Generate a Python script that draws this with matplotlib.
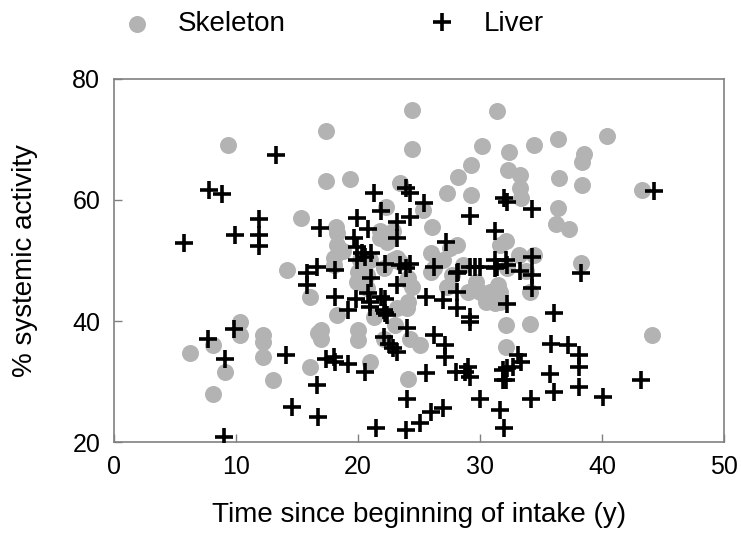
import matplotlib.pyplot as plt

plt.rcParams['font.family'] = ['Liberation Sans', 'DejaVu Sans']

# Skeleton (grey circles): time since beginning of intake (y), % systemic activity
skeleton_x = [9.3, 17.4, 24.4, 31.4, 24.4, 30.2, 32.4, 29.3, 32.3, 28.2, 17.4, 19.3, 23.4, 27.3, 29.3,
              22.3, 25.3, 15.3, 18.2, 26.1,
              34.4, 36.4, 40.4, 38.5, 38.4, 33.3, 33.3, 33.4, 36.5, 38.4, 43.3, 36.4, 36.2, 37.3,
              32.1, 33.2, 34.4, 38.3,
              44.1, 32.1, 34.1, 32.1, 34.1, 31.2, 33.8, 32.2,
              14.2, 16.1, 10.3, 10.3, 8.1, 6.2, 9.1, 8.1, 12.2, 12.2, 12.2, 13.0, 16.1, 16.7,
              18.3, 17.0, 17.0, 20.0, 20.0, 21.0, 24.1, 22.1, 24.0, 23.2, 25.1, 24.3, 23.0, 21.3,
              27.3, 29.0, 30.0, 31.4, 27.7, 28.6, 27.0, 26.2, 24.0, 24.4, 23.4, 22.9, 22.1, 20.7,
              20.4, 19.9, 20.2, 21.0, 18.0, 18.0,
              18.3, 18.3, 20.0, 20.7, 21.8, 22.9, 23.2,
              27.5, 28.1, 26.0, 26.0, 31.6, 29.7, 30.8, 30.5, 24.1, 24.1, 31.6, 31.5, 31.6,
              21.8, 22.4, 18.8]
skeleton_y = [69.1, 71.4, 74.9, 74.7, 68.4, 68.9, 67.9, 65.8, 65.0, 63.8, 63.1, 63.5, 62.8, 61.2, 60.8,
              58.8, 58.3, 57.0, 55.5, 55.5,
              69.1, 70.0, 70.6, 67.6, 66.2, 64.1, 61.9, 60.3, 63.7, 62.5, 61.7, 58.6, 56.0, 55.2,
              53.3, 50.9, 50.9, 49.6,
              37.7, 39.3, 39.5, 35.8, 44.8, 43.0, 48.2, 48.7,
              48.4, 44.0, 39.9, 37.7, 36.0, 34.8, 31.6, 27.9, 37.7, 36.6, 34.1, 30.2, 32.4, 38.0,
              41.0, 38.5, 37.1, 38.5, 36.9, 33.3, 30.5, 37.1, 42.1, 42.1, 36.0, 37.1, 39.3, 40.7,
              45.7, 44.8, 44.8, 44.0, 47.6, 49.3, 50.1, 48.7, 46.8, 45.7, 49.8, 50.1, 48.7, 47.6,
              48.7, 46.5, 50.1, 50.1, 50.4, 49.3,
              54.5, 52.5, 48.1, 45.4, 54.8, 54.8, 50.4,
              52.0, 52.6, 51.2, 48.1, 52.6, 46.5, 44.8, 43.2, 47.1, 43.2, 44.8, 45.9, 43.2,
              53.7, 53.1, 51.5]

# Liver (black crosses)
liver_x = [13.3, 7.8, 8.85, 11.9, 11.9, 11.9, 9.9, 5.7, 16.9,
           23.9, 24.3, 21.3, 25.4, 32.0, 32.2, 34.3,
           21.9, 29.2, 24.3, 19.9, 20.8, 23.2, 31.2, 23.2, 19.7, 27.2,
           19.9, 20.3, 21.1, 19.9, 20.6, 44.3,
           31.2, 32.1, 34.3, 31.2, 32.2, 33.3, 34.3, 34.3, 38.3,
           32.2, 36.1, 35.8, 37.2, 38.1, 38.1, 38.1, 36.1, 35.7,
           33.1, 33.4, 32.2, 32.7, 32.1, 34.2, 40.1, 43.2, 31.6, 32.0,
           15.8, 15.8, 16.6, 9.8, 7.7, 9.1, 14.1, 16.6, 14.6, 16.7, 9.0,
           18.1, 22.2, 23.4, 24.3, 23.9, 21.1, 23.2,
           26.2, 28.1, 29.2, 29.6, 30.0, 31.4, 28.2,
           18.1, 19.8, 20.8, 21.0, 22.2, 22.2, 19.2, 21.9, 21.0, 22.1, 22.4,
           25.6, 27.0, 28.1, 28.1, 29.2, 29.2,
           24.0, 22.1, 22.5, 22.9, 23.2, 26.2, 27.1, 27.1,
           17.4, 18.0, 18.1, 19.2, 20.6,
           25.6, 28.0, 28.8, 29.0, 29.2, 31.9, 31.9,
           24.0, 30.0, 21.5, 23.9, 25.1, 26.0, 27.0]
liver_y = [67.4, 61.7, 61.0, 56.9, 54.3, 52.4, 54.2, 52.9, 55.3,
           61.9, 61.1, 61.1, 59.5, 60.3, 59.7, 58.5,
           58.2, 57.4, 57.2, 57.0, 55.2, 56.4, 54.8, 53.7, 53.8, 53.1,
           52.3, 51.2, 51.2, 50.1, 50.6, 61.5,
           50.1, 50.1, 50.6, 48.7, 49.3, 48.2, 47.6, 45.4, 47.9,
           42.9, 41.4, 36.3, 36.0, 34.4, 32.4, 29.1, 28.3, 31.2,
           34.4, 33.3, 32.2, 32.4, 30.2, 27.2, 27.5, 30.2, 25.3, 22.3,
           47.9, 45.9, 49.0, 38.7, 37.0, 33.8, 34.4, 29.4, 25.8, 24.2, 20.9,
           48.4, 49.5, 49.3, 49.5, 48.7, 47.1, 45.9,
           49.0, 47.9, 49.0, 49.0, 49.0, 49.0, 48.1,
           44.0, 43.7, 44.6, 43.2, 43.7, 41.3, 41.8, 44.0, 42.4, 41.8, 41.0,
           44.0, 43.5, 44.8, 42.1, 40.7, 39.9,
           38.8, 37.4, 36.3, 35.5, 34.9, 37.7, 36.0, 34.1,
           33.8, 34.1, 33.3, 33.0, 31.6,
           31.4, 31.6, 31.6, 32.4, 30.8, 31.9, 30.2,
           27.2, 27.2, 22.4, 22.0, 23.1, 25.0, 25.6]

x_ticks = [0, 10, 20, 30, 40, 50]
y_ticks = [20, 40, 60, 80]

fig = plt.figure(figsize=(7.41, 5.40), dpi=100)
ax = fig.add_axes([0.154, 0.181, 0.823, 0.673])

ax.scatter(skeleton_x, skeleton_y, s=150, color='#b3b3b3', linewidths=0,
           label='Skeleton', zorder=2)
ax.plot(liver_x, liver_y, '+', color='black', markersize=13, markeredgewidth=2.6,
        linestyle='none', label='Liver', zorder=3)

ax.set_xlim(0, 50)
ax.set_ylim(20, 80)
ax.set_xticks(x_ticks)
ax.set_yticks(y_ticks)
ax.tick_params(direction='in', length=6, width=1, colors='#808080',
               labelcolor='black', labelsize=18)
ax.tick_params(axis='y', pad=10)
ax.tick_params(axis='x', pad=9)
for sp in ax.spines.values():
    sp.set_color('#808080')
    sp.set_linewidth(1.2)

ax.set_xlabel('Time since beginning of intake (y)', fontsize=20)
ax.set_ylabel('% systemic activity', fontsize=20)
ax.xaxis.set_label_coords(0.5, -0.165)
ax.yaxis.set_label_coords(-0.125, 0.5)

ax.legend(loc='center', bbox_to_anchor=(0.359, 1.15), ncol=2, frameon=False,
          fontsize=20, columnspacing=5.1, handlelength=1.0, handletextpad=1.0)

fig.savefig('out.png', dpi=100)
